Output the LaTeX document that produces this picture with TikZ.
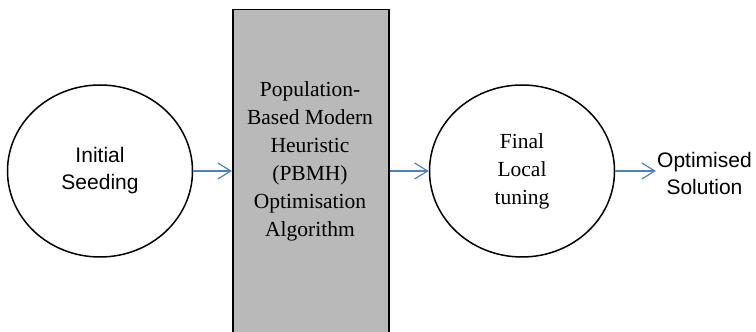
\documentclass[tikz,border=0pt]{standalone}
\usepackage[RGB]{xcolor}
\usepackage{fontspec}
\setmainfont{Liberation Serif}
\setsansfont{Liberation Sans}
\usepackage{tikz}
\usetikzlibrary{shapes.geometric,arrows.meta}
\definecolor{B}{RGB}{79,129,189}
\definecolor{G}{RGB}{185,185,185}
\newcommand{\drawflow}{\draw[flow]}
\tikzset{
  bubble/.style={draw, line width=1.5pt, ellipse, inner sep=0pt, minimum width=185pt, minimum height=172pt},
  sanstext/.style={font=\sffamily\fontsize{21}{27}\selectfont, align=center},
  seriftext/.style={font=\rmfamily\fontsize{21.5}{28}\selectfont, align=center},
  flow/.style={B, line width=1.2pt, -{Straight Barb[length=13pt,width=16pt,line width=1.2pt]}}
}

\begin{document}
\begin{tikzpicture}[x=1pt,y=1pt]
\useasboundingbox (0,0) rectangle (756,332);
\clip (0,0) rectangle (756,332);
\node[bubble, sanstext] (seed) at (100,161) {Initial\\Seeding};
\node[draw, line width=1.5pt, fill=G, anchor=north west, minimum width=156pt, minimum height=360pt, inner sep=0pt] (pbmhbox) at (232,323) {};
\node[seriftext] (pbmh) at (310,171) {Population-\\Based Modern\\Heuristic\\(PBMH)\\Optimisation\\Algorithm};
\node[bubble, seriftext] (tune) at (522,161) {Final\\Local\\tuning};
\node[sanstext, anchor=west, inner sep=1pt] (opt) at (656,158.5) {Optimised\\Solution};
\drawflow (seed.east) -- (seed.east -| pbmhbox.west);
\drawflow (tune.west -| pbmhbox.east) -- (tune.west);
\drawflow (tune.east) -- (tune.east -| opt.west);
\end{tikzpicture}
\end{document}
